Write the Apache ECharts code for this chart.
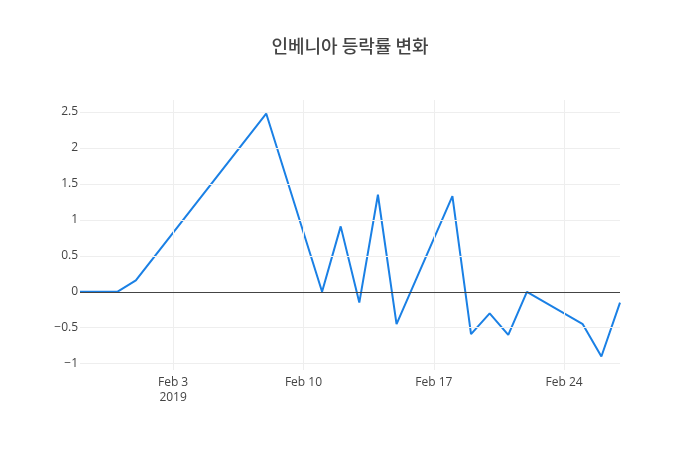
<!DOCTYPE html>
<html>
<head>
<meta charset="utf-8">
<script src="https://cdn.jsdelivr.net/npm/echarts@6/dist/echarts.min.js"></script>
<style>html,body{margin:0;padding:0;background:#fff}#c{width:700px;height:450px}</style>
</head>
<body>
<div id="c"></div>
<script>
const dates = ['2019-01-29','2019-01-30','2019-01-31','2019-02-01','2019-02-08','2019-02-11','2019-02-12','2019-02-13','2019-02-14','2019-02-15','2019-02-18','2019-02-19','2019-02-20','2019-02-21','2019-02-22','2019-02-25','2019-02-26','2019-02-27'];
const changes = [0, 0, 0, 0.16, 2.48, 0, 0.91, -0.15, 1.35, -0.45, 1.33, -0.59, -0.3, -0.6, 0, -0.45, -0.9, -0.15];
const yTicks = [-1, -0.5, 0, 0.5, 1, 1.5, 2, 2.5];
const xTickDates = ['2019-02-03','2019-02-10','2019-02-17','2019-02-24'];
const xTickLabels = ['Feb 3\n2019','Feb 10','Feb 17','Feb 24'];
const titleText = '인베니아 등락률 변화';

const ts = d => Date.parse(d + 'T00:00:00Z');
const xTicks = xTickDates.map(ts);
const xMin = ts(dates[0]), xMax = ts(dates[dates.length - 1]);
const dMin = Math.min(...changes), dMax = Math.max(...changes);
const pad = (dMax - dMin) * 0.0556;
const yMin = dMin - pad, yMax = dMax + pad;

const font = '"Open Sans", "Noto Sans CJK KR", sans-serif';
const chart = echarts.init(document.getElementById('c'), null, {renderer: 'canvas'});
chart.setOption({
  animation: false,
  backgroundColor: '#fff',
  title: {
    text: titleText, left: 'center', top: 32,
    textStyle: {fontFamily: '"Noto Sans CJK KR", sans-serif', fontSize: 18, fontWeight: 500, color: '#444'}
  },
  grid: {left: 80, right: 80, top: 100, bottom: 80},
  xAxis: {
    type: 'value', min: xMin, max: xMax,
    axisLine: {show: false}, axisTick: {show: false}, splitLine: {show: false},
    axisLabel: {
      customValues: xTicks, showMinLabel: true, showMaxLabel: true,
      color: '#444', fontFamily: font, fontSize: 12, margin: 5, lineHeight: 15,
      formatter: v => { const i = xTicks.indexOf(v); return i >= 0 ? xTickLabels[i] : ''; }
    }
  },
  yAxis: {
    type: 'value', min: yMin, max: yMax,
    axisLine: {show: false}, axisTick: {show: false}, splitLine: {show: false},
    axisLabel: {
      customValues: yTicks, color: '#444', fontFamily: font, fontSize: 12, margin: 2,
      formatter: v => String(v).replace('-', '\u2212')
    }
  },
  series: [
    {
      type: 'line', data: [], silent: true, z: 1,
      markLine: {
        silent: true, symbol: 'none', animation: false, label: {show: false},
        lineStyle: {color: '#eee', width: 1, type: 'solid'},
        data: yTicks.filter(v => v !== 0).map(v => ({yAxis: v}))
          .concat(xTicks.map(v => ({xAxis: v})))
      }
    },
    {
      type: 'line', data: [], silent: true, z: 2,
      markLine: {
        silent: true, symbol: 'none', animation: false, label: {show: false},
        lineStyle: {color: '#444', width: 1, type: 'solid'},
        data: [{yAxis: 0}]
      }
    },
    {
      type: 'line', z: 3,
      data: dates.map((d, i) => [ts(d), changes[i]]),
      showSymbol: false, symbol: 'none',
      lineStyle: {color: '#1a80e5', width: 2},
      itemStyle: {color: '#1a80e5'}
    }
  ]
});
</script>
</body>
</html>
